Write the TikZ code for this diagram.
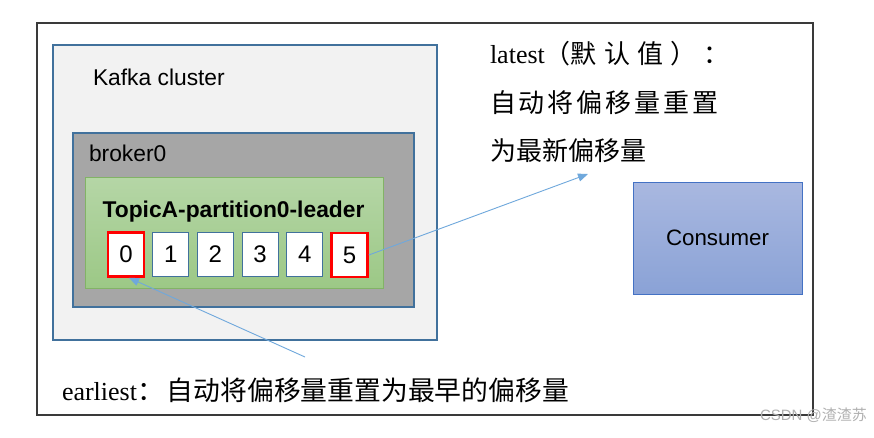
\documentclass[tikz,border=0pt]{standalone}
\usepackage{fontspec}
\setmainfont{Liberation Serif}
\setsansfont{Liberation Sans}
\newfontfamily\cjk{Noto Sans CJK SC}
\newfontfamily\cjkwide[LetterSpace=28]{Noto Sans CJK SC}
\newfontfamily\cjkmid[LetterSpace=11]{Noto Sans CJK SC}
\usetikzlibrary{arrows.meta,shadings}
\definecolor{steel}{HTML}{41719C}
\definecolor{clusterfill}{HTML}{F2F2F2}
\definecolor{brokerfill}{HTML}{A6A6A6}
\definecolor{greentop}{HTML}{B5D6A6}
\definecolor{greenbot}{HTML}{9CC886}
\definecolor{greenedge}{HTML}{82B366}
\definecolor{constop}{HTML}{A9B8E0}
\definecolor{consbot}{HTML}{8AA2D6}
\definecolor{consedge}{HTML}{4472C4}
\definecolor{arrowblue}{HTML}{6FA8DC}
\definecolor{redcell}{HTML}{FF0000}
\definecolor{outeredge}{HTML}{3A3A3A}
\definecolor{wmgray}{HTML}{B0B0B0}
\tikzset{
  box/.style={anchor=north west, inner sep=0pt, outer sep=0pt},
  outerbox/.style={box, draw=outeredge, line width=1.5pt, fill=white},
  clusterbox/.style={box, draw=steel, line width=1.5pt, fill=clusterfill},
  brokerbox/.style={box, draw=steel, line width=1.5pt, fill=brokerfill},
  greenbox/.style={box, draw=greenedge, line width=0.8pt, top color=greentop, bottom color=greenbot},
  consbox/.style={box, draw=consedge, line width=1pt, top color=constop, bottom color=consbot,
    font=\sffamily\fontsize{22.3}{26}\selectfont},
  cell/.style={draw=steel, line width=1pt, fill=white, minimum width=36pt, minimum height=44pt,
    inner sep=0pt, font=\sffamily\fontsize{24}{28}\selectfont},
  redbox/.style={cell, draw=redcell, line width=2.6pt},
  label/.style={inner sep=0pt, outer sep=0pt},
  arr/.style={draw=arrowblue, line width=0.9pt, -{Triangle[length=10pt,width=8pt]}}
}
\begin{document}
\begin{tikzpicture}[x=1pt,y=-1pt]
\useasboundingbox (0,0) rectangle (874,437);
\fill[white] (0,0) rectangle (874,437);
% outer frame
\node[outerbox, minimum width=776pt, minimum height=392pt] (outer) at (37,23) {};
% Kafka cluster
\node[clusterbox, minimum width=384pt, minimum height=295pt] (cluster) at (53,45) {};
\node[label, anchor=base west, font=\sffamily\fontsize{22.8}{26}\selectfont] (clusterlbl) at (93,85) {Kafka cluster};
% broker0
\node[brokerbox, minimum width=341pt, minimum height=174pt] (broker) at (73,133) {};
\node[label, anchor=base west, font=\sffamily\fontsize{22.8}{26}\selectfont] (brokerlbl) at (89,161) {broker0};
% partition
\node[greenbox, minimum width=298pt, minimum height=111pt] (part) at (85,177) {};
\node[label, anchor=base, font=\sffamily\bfseries\fontsize{22.8}{26}\selectfont] (partlbl) at (233.5,217) {TopicA-partition0-leader};
% cells
\node[redbox] (c0) at (126,254.5) {0};
\node[cell] (c1) at (170.7,254.5) {1};
\node[cell] (c2) at (215.4,254.5) {2};
\node[cell] (c3) at (260.1,254.5) {3};
\node[cell] (c4) at (304.8,254.5) {4};
\node[redbox] (c5) at (349.5,255) {5};
% consumer
\node[consbox, minimum width=169pt, minimum height=112pt] (consumer) at (633,182) {Consumer};
% texts
\node[label, anchor=base west, font=\fontsize{26}{30}\selectfont] (latest1) at (490,63)
  {latest{\cjk （}{\cjkwide 默认值）：}};
\node[label, anchor=west, font=\cjkmid\fontsize{26}{30}\selectfont] (latest2) at (490,103) {自动将偏移量重置};
\node[label, anchor=west, font=\cjk\fontsize{26}{30}\selectfont] (latest3) at (490,151) {为最新偏移量};
\node[label, anchor=base west, font=\fontsize{26}{30}\selectfont] (earliest) at (62,400)
  {earliest{\cjk\fontsize{26.8}{30}\selectfont ：\hspace*{3pt}自动将偏移量重置为最早的偏移量}};
% arrows
\coordinate (latestpt) at (588,174);
\coordinate (earlypt) at (305,357);
\draw[arr] (c5.east) -- (latestpt);
\draw[arr] (earlypt) -- ([xshift=3pt]c0.south);
% watermark
\node[label, anchor=west, text=wmgray, font=\sffamily\fontsize{15}{18}\selectfont] (wm) at (760,415)
  {CSDN @{\cjk 渣渣苏}};
\end{tikzpicture}
\end{document}
